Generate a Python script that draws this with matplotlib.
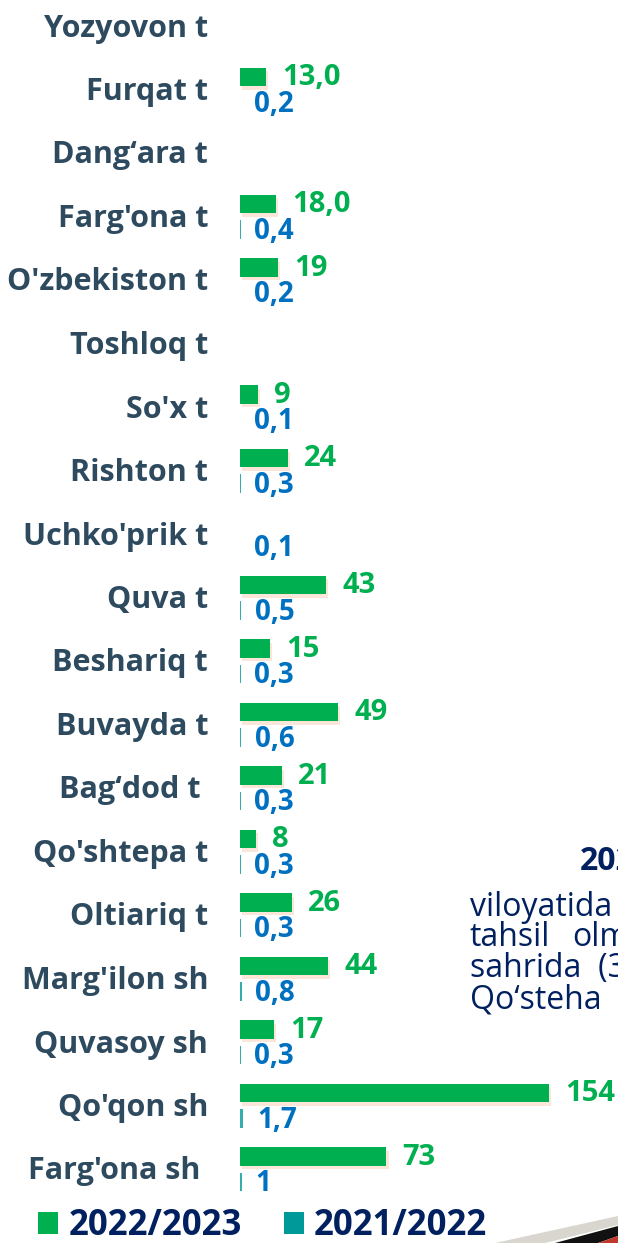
import matplotlib.pyplot as plt
import matplotlib.patheffects as pe
from matplotlib.patches import Patch, Polygon
import numpy as np

plt.rcParams['font.family'] = ['Open Sans', 'DejaVu Sans']

# districts, top to bottom
districts = ["Yozyovon t", "Furqat t", "Dang\u2018ara t", "Farg'ona t", "O'zbekiston t",
             "Toshloq t", "So'x t", "Rishton t", "Uchko'prik t", "Quva t",
             "Beshariq t", "Buvayda t", "Bag\u2018dod t ", "Qo'shtepa t", "Oltiariq t",
             "Marg'ilon sh", "Quvasoy sh", "Qo'qon sh", "Farg'ona sh "]

# 2022/2023
new_vals = [np.nan, 13.0, np.nan, 18.0, 19, np.nan, 9, 24, np.nan, 43,
            15, 49, 21, 8, 26, 44, 17, 154, 73]
new_text = ["", "13,0", "", "18,0", "19", "", "9", "24", "", "43",
            "15", "49", "21", "8", "26", "44", "17", "154", "73"]

# 2021/2022
old_vals = [np.nan, 0.2, np.nan, 0.4, 0.2, np.nan, 0.1, 0.3, 0.1, 0.5,
            0.3, 0.6, 0.3, 0.3, 0.3, 0.8, 0.3, 1.7, 1]
old_text = ["", "0,2", "", "0,4", "0,2", "", "0,1", "0,3", "0,1", "0,5",
            "0,3", "0,6", "0,3", "0,3", "0,3", "0,8", "0,3", "1,7", "1"]

green = '#00B050'
teal = '#009999'
blue_txt = '#0070C0'
label_col = '#2E4A5F'
navy = '#002060'

W, H = 618, 1243
fig = plt.figure(figsize=(W / 100, H / 100), dpi=100)
ax = fig.add_axes([240 / W, 0, 378 / W, 1])

y = np.arange(len(districts))
ax.barh(y - 0.18, new_vals, height=0.29, color=green,
        path_effects=[pe.SimplePatchShadow(offset=(1.5, -2.5), shadow_rgbFace='#F4B183', alpha=0.3),
                      pe.Normal()])
ax.barh(y + 0.22, old_vals, height=0.29, color=teal, alpha=0.8)

for i in range(len(districts)):
    if new_text[i]:
        ax.text(new_vals[i] + 8, i - 0.17, new_text[i], color=green, fontsize=21,
                fontweight='bold', va='center', ha='left')
    if old_text[i]:
        v = old_vals[i] if not np.isnan(old_vals[i]) else 0
        ax.text(v + 6.8, i + 0.25, old_text[i], color=blue_txt, fontsize=20,
                fontweight='bold', va='center', ha='left')

ax.set_xlim(0, 378 / 2.006)
ax.set_ylim((H - 25) / 63.5, -25 / 63.5)
ax.set_yticks(y)
ax.set_yticklabels(districts, fontsize=22, fontweight='bold', color=label_col)
ax.tick_params(axis='y', length=0, pad=23)
ax.set_xticks([])
for s in ax.spines.values():
    s.set_visible(False)
ax.patch.set_alpha(0)

# legend
handles = [Patch(facecolor=green), Patch(facecolor=teal)]
leg = fig.legend(handles, ['2022/2023', '2021/2022'], loc='center left',
                 bbox_to_anchor=(38 / W, 17 / H), ncol=2, frameon=False,
                 handlelength=0.58, handleheight=0.6, handletextpad=0.3,
                 columnspacing=1.2, borderaxespad=0, borderpad=0,
                 prop={'size': 25, 'weight': 'bold'})
for t in leg.get_texts():
    t.set_color(navy)

# slide text behind the chart, cut at the right edge
fig.text(580 / W, 1 - 862 / H, '2022', color=navy, fontsize=23, fontweight='bold', va='center')
body = ['viloyatida', 'tahsil', 'sahrida  (3', 'Qo\u2018steha']
for k, line in enumerate(body):
    fig.text(470 / W, 1 - (907 + 31 * k) / H, line, color=navy, fontsize=23, va='center')
fig.text(572 / W, 1 - 938 / H, 'olm', color=navy, fontsize=23, va='center')

# decorative swoosh in the corner
for pts, c in [([(495, 1243), (618, 1216), (618, 1225), (545, 1243)], '#D9D6CF'),
               ([(555, 1243), (618, 1226), (618, 1236), (598, 1243)], '#111111'),
               ([(598, 1243), (618, 1236), (618, 1243)], '#C0392B')]:
    fig.patches.append(Polygon([(x / W, 1 - yy / H) for x, yy in pts], closed=True,
                               transform=fig.transFigure, facecolor=c, edgecolor='none'))

fig.savefig('out.png', dpi=100)
